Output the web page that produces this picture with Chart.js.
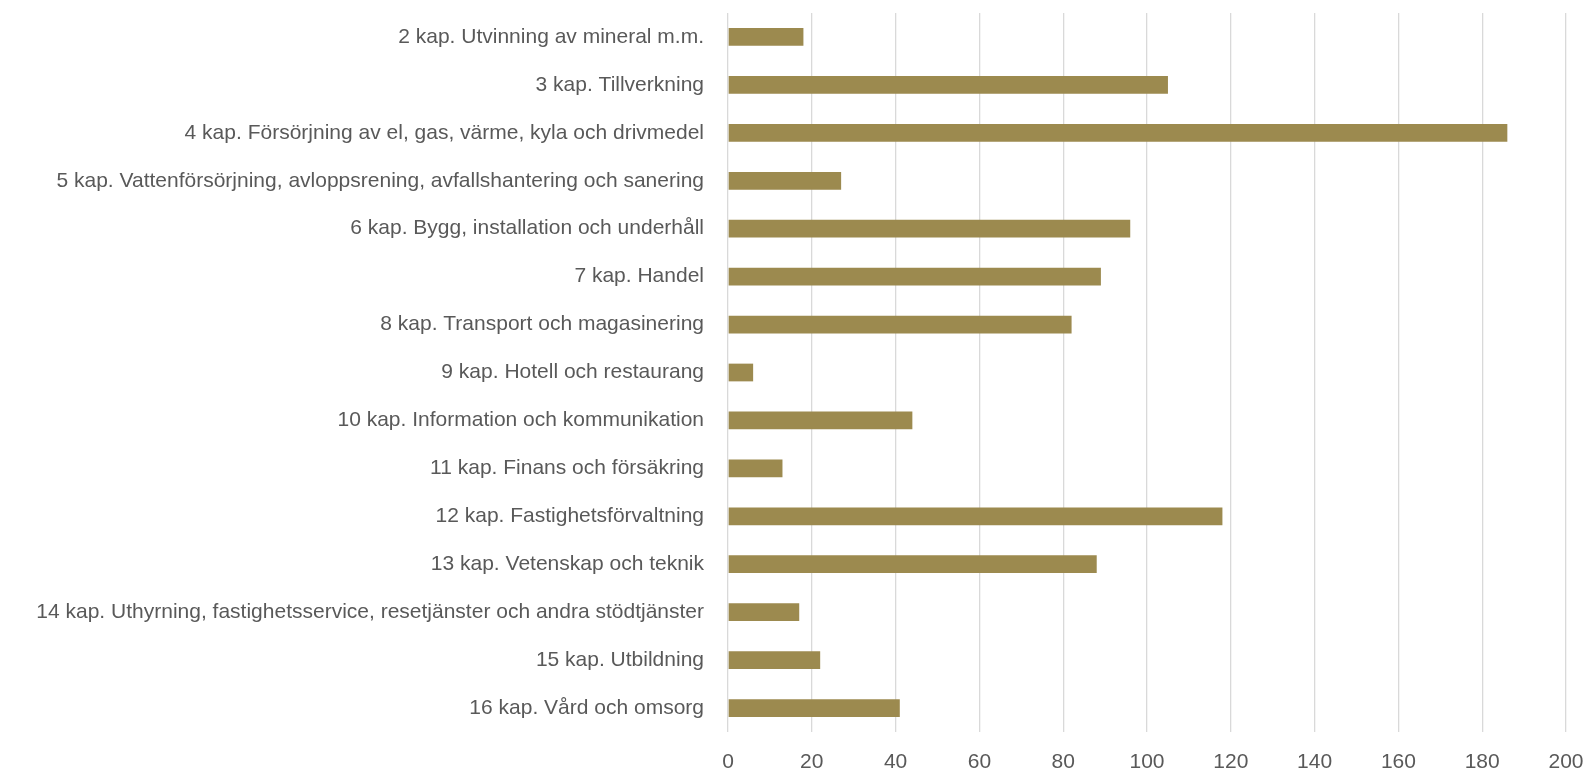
<!DOCTYPE html>
<html lang="sv">
<head>
<meta charset="utf-8">
<title>Kapitel</title>
<script src="https://cdn.jsdelivr.net/npm/chart.js@4.4.1/dist/chart.umd.min.js"></script>
<style>
    html, body { margin: 0; padding: 0; background: #ffffff; }
    .chart-box { width: 1585px; height: 772px; position: relative; }
</style>
</head>
<body>
<div class="chart-box"><canvas id="kapChart"></canvas></div>
<script>
// Kategorier (y-axeln)
const kategorier = [
    '2 kap. Utvinning av mineral m.m.',
    '3 kap. Tillverkning',
    '4 kap. Försörjning av el, gas, värme, kyla och drivmedel',
    '5 kap. Vattenförsörjning, avloppsrening, avfallshantering och sanering',
    '6 kap. Bygg, installation och underhåll',
    '7 kap. Handel',
    '8 kap. Transport och magasinering',
    '9 kap. Hotell och restaurang',
    '10 kap. Information och kommunikation',
    '11 kap. Finans och försäkring',
    '12 kap. Fastighetsförvaltning',
    '13 kap. Vetenskap och teknik',
    '14 kap. Uthyrning, fastighetsservice, resetjänster och andra stödtjänster',
    '15 kap. Utbildning',
    '16 kap. Vård och omsorg'
];

// Värden per kapitel
const varden = [18, 105, 186, 27, 96, 89, 82, 6, 44, 13, 118, 88, 17, 22, 41];

// Skala på x-axeln
const xMin = 0;
const xMax = 200;
const xSteg = 20;

const textFont = { family: '"Liberation Sans", Arial, sans-serif', size: 21 };
const textFarg = '#595959';

const kapChart = new Chart(document.getElementById('kapChart'), {
    type: 'bar',
    data: {
        labels: kategorier,
        datasets: [{
            data: varden,
            backgroundColor: '#9C8A4F',
            borderWidth: 0,
            barPercentage: 0.37,
            categoryPercentage: 1
        }]
    },
    options: {
        indexAxis: 'y',
        responsive: true,
        maintainAspectRatio: false,
        animation: false,
        layout: {
            padding: { top: 13, right: 19, bottom: 0, left: 0 }
        },
        plugins: {
            legend: { display: false },
            tooltip: { enabled: false }
        },
        scales: {
            x: {
                min: xMin,
                max: xMax,
                ticks: { stepSize: xSteg, color: textFarg, font: textFont, padding: 18 },
                grid: { color: '#d9d9d9', lineWidth: 1.3, drawTicks: false },
                border: { display: false },
                afterFit: (scale) => {
                    scale.height = 40;
                    scale.paddingLeft = 0;
                    scale.paddingRight = 0;
                }
            },
            y: {
                ticks: { color: textFarg, font: textFont, padding: 24, autoSkip: false },
                grid: { display: false, drawTicks: false },
                border: { display: false },
                afterFit: (scale) => {
                    scale.width = 728;
                    scale.paddingTop = 0;
                    scale.paddingBottom = 0;
                }
            }
        }
    }
});
</script>
</body>
</html>
